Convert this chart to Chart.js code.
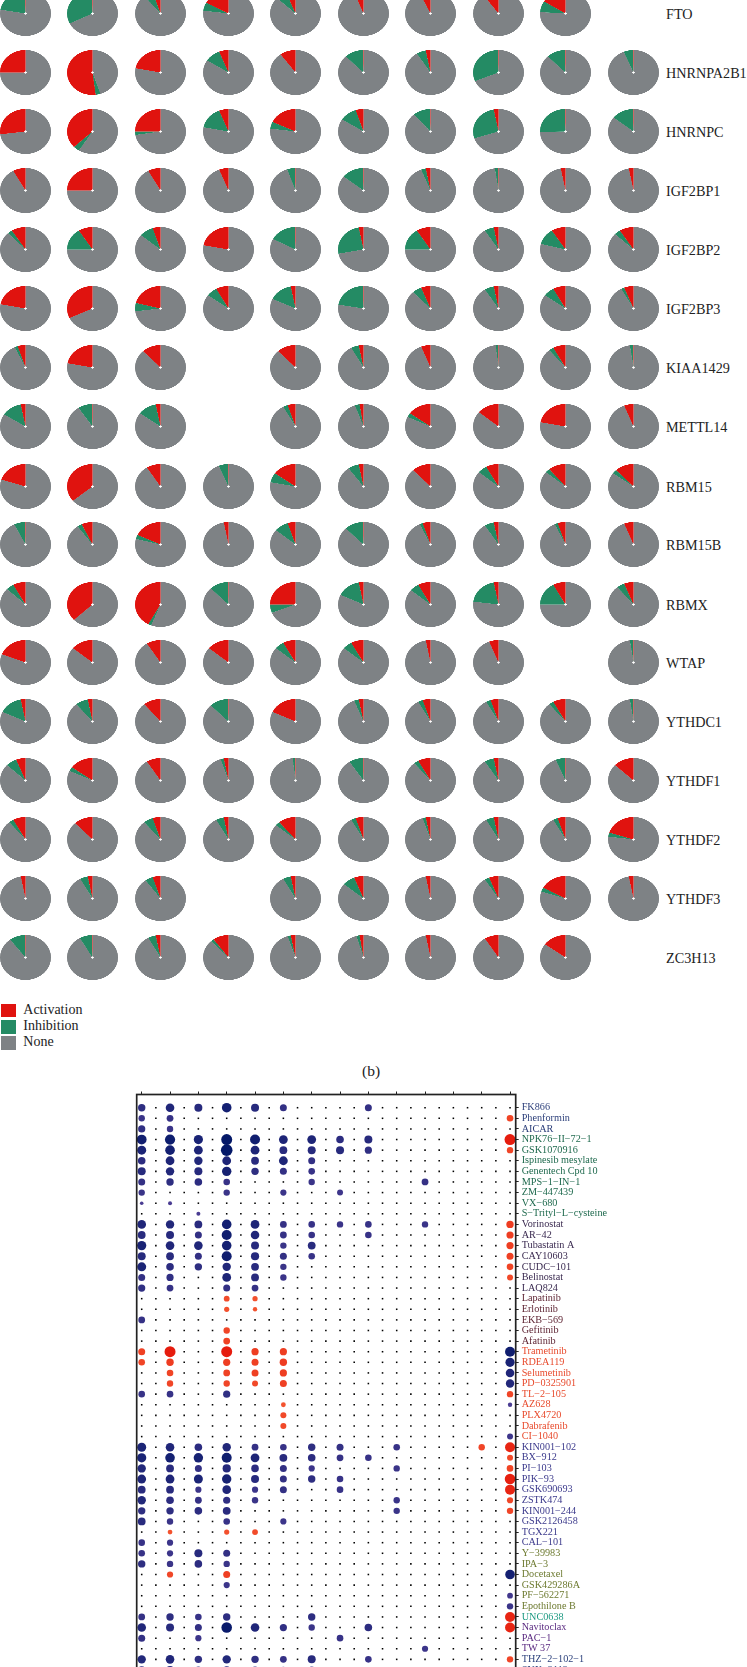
<!DOCTYPE html>
<html>
<head>
<meta charset="utf-8">
<script src="https://cdn.jsdelivr.net/npm/chart.js@4"></script>
<style>
  html, body { margin: 0; padding: 0; background: #fff; }
  body { position: relative; width: 747px; height: 1667px; overflow: hidden; font-family: "Liberation Serif", serif; color: #222; }
  .pie { position: absolute; width: 45px; height: 45px; transform: scaleX(1.133); }
  .txt { position: absolute; white-space: nowrap; line-height: 16px; font-size: 14px; }
  .swatch { position: absolute; left: 1px; width: 15px; height: 13.5px; }
  #dots { position: absolute; left: 130px; top: 1085px; }
</style>
</head>
<body>
<canvas id="dots" width="617" height="620"></canvas>
<script>
const genes = ["FTO", "HNRNPA2B1", "HNRNPC", "IGF2BP1", "IGF2BP2", "IGF2BP3", "KIAA1429", "METTL14",
  "RBM15", "RBM15B", "RBMX", "WTAP", "YTHDC1", "YTHDF1", "YTHDF2", "YTHDF3", "ZC3H13"];

// percent of samples per gene and cancer type, null = no pie
const activation = [
  [0.3, 0.3, 5, 17, 6, 6, 7, 10, 16, null],
  [25, 52, 22, 6, 10, 0.3, 3, 0.3, 0.3, 0.3],
  [27, 37, 25, 6, 18, 5, 0.3, 3, 0.3, 0.3],
  [8, 25, 8, 6, 0.3, 0.3, 3, 0.3, 3, 3],
  [9, 9, 5, 22, 0.3, 3, 9, 3, 9, 9],
  [22, 32, 21, 8, 3, 0.3, 6, 3, 8, 6],
  [5, 22, 12, null, 12, 3, 6, 0.3, 8, 0.3],
  [3, 0.3, 3, null, 5, 2.5, 15, 14, 22, 6],
  [20, 36, 9, 0.3, 15, 3, 12, 8, 11, 12],
  [0.3, 7, 18, 3, 5, 0.3, 5, 3, 5, 6],
  [8, 37, 42, 0.3, 25, 3, 8, 3, 8, 6],
  [19, 14, 9, 14, 8, 8, 3, 6, null, 0.3],
  [3, 3, 11, 0.3, 18, 3, 5, 5, 8, 0.3],
  [6, 15, 9, 3, 0.3, 0.3, 8, 3, 0.3, 13],
  [8, 12, 5, 3, 11, 5, 3, 3, 5, 20],
  [3, 3, 5, null, 3, 6, 3, 6, 17, 3],
  [0.3, 0.3, 3, 10, 3, 2.5, 3, 9, 15, null]
];
const inhibition = [
  [22, 32, 6, 6, 7, 0, 0, 0, 8, null],
  [0, 3, 0, 10, 0, 12, 6, 31, 12, 6],
  [0, 4, 2.5, 16, 5, 11, 11, 27, 25, 14],
  [0, 0, 0, 0, 5, 14, 3, 2, 0, 0],
  [3, 16, 9, 0, 17, 25, 16, 6, 12, 4],
  [0, 0, 6, 7, 15, 22, 6, 6, 7, 2],
  [2, 0, 0, null, 0, 5, 0, 1.5, 3, 2],
  [13, 9, 12, null, 3, 3, 3, 0, 0, 0],
  [0, 0, 0, 6, 7, 7, 0, 6, 3, 3],
  [7, 3, 3, 0, 9, 12, 2, 6, 2, 0],
  [5, 0, 2, 12, 6, 15, 6, 20, 17, 5],
  [0, 0, 0, 0, 6, 6, 0, 0, null, 2],
  [15, 8, 0, 12, 0, 3, 3, 3, 3, 2],
  [7, 3, 0, 2, 1.5, 9, 3, 6, 6, 0],
  [3, 0, 6, 5, 3, 3, 2, 5, 3, 3],
  [0, 5, 5, null, 5, 8, 0, 3, 3, 0],
  [10, 8, 5, 2, 2, 2, 0, 0, 0, null]
];

const drugs = ["FK866", "Phenformin", "AICAR", "NPK76−II−72−1", "GSK1070916", "Ispinesib mesylate", "Genentech Cpd 10",
  "MPS−1−IN−1", "ZM−447439", "VX−680", "S−Trityl−L−cysteine", "Vorinostat", "AR−42", "Tubastatin A", "CAY10603",
  "CUDC−101", "Belinostat", "LAQ824", "Lapatinib", "Erlotinib", "EKB−569", "Gefitinib", "Afatinib", "Trametinib",
  "RDEA119", "Selumetinib", "PD−0325901", "TL−2−105", "AZ628", "PLX4720", "Dabrafenib", "CI−1040", "KIN001−102",
  "BX−912", "PI−103", "PIK−93", "GSK690693", "ZSTK474", "KIN001−244", "GSK2126458", "TGX221", "CAL−101", "Y−39983",
  "IPA−3", "Docetaxel", "GSK429286A", "PF−562271", "Epothilone B", "UNC0638", "Navitoclax", "PAC−1", "TW 37",
  "THZ−2−102−1", "SNX−2112"];
const groupSizes = [3, 8, 7, 5, 9, 10, 6, 1, 3, 2];
const groupColors = ["#2c3f7a", "#1f6a4e", "#3a2a50", "#5a1f2e", "#e84a2c", "#3c3a8c", "#6d7a30", "#1d9a82", "#5a2a80", "#2a3f7a"];

// one row per drug, 14 columns; size of the dot, red when positive, blue when negative
const correlation = [
  [-3.7, -4.3, -4, -4.8, -4, -3.5, 0, 0, -3.5, 0, 0, 0, 0, 0],
  [-3.2, -3.4, 0, 0, 0, 0, 0, 0, 0, 0, 0, 0, 0, 3.3],
  [-3.6, -3.2, 0, 0, 0, 0, 0, 0, 0, 0, 0, 0, 0, 0],
  [-4.9, -5.1, -4.6, -5.5, -5, -4.4, -4.4, -3.8, -4, 0, 0, 0, 0, 5.5],
  [-4.5, -4.8, -4.4, -5.8, -4.4, -3.9, -4, -4, -3.6, 0, 0, 0, 0, 3.2],
  [-3.8, -4.4, -4.2, -4.4, -3.9, -4.4, -3.5, 0, 0, 0, 0, 0, 0, 0],
  [-4, -4.2, -4, -4.7, -3.7, -3.5, -3.3, 0, 0, 0, 0, 0, 0, 0],
  [-3.5, -3.7, -3.8, -3.3, 0, 0, -3.2, 0, 0, 0, -3.4, 0, 0, 0],
  [-3.2, 0, 0, -3.2, 0, -3.1, 0, -3, 0, 0, 0, 0, 0, 0],
  [-1.8, -2, 0, 0, 0, 0, 0, 0, 0, 0, 0, 0, 0, 0],
  [0, 0, -2, 0, 0, 0, 0, 0, 0, 0, 0, 0, 0, 0],
  [-4.3, -4.2, -3.9, -4.8, -4.4, -3.4, -3.3, -3.2, -3.3, 0, -3.2, 0, 0, 3.7],
  [-3.9, -4, -3.5, -5, -4.3, -3.4, -3.3, 0, -3.3, 0, 0, 0, 0, 3.6],
  [-4.6, -4.3, -4.3, -4.8, -4, -3.2, -3.9, 0, 0, 0, 0, 0, 0, 3.6],
  [-4, -3.9, -3.5, -5, -4.1, -3.5, -3.3, 0, 0, 0, 0, 0, 0, 3.5],
  [-4.5, -3.8, -3.7, -4.2, -3.9, -3.2, 0, 0, 0, 0, 0, 0, 0, 3.3],
  [-3.5, -3.6, 0, -4.4, -3.9, -3.2, 0, 0, 0, 0, 0, 0, 0, 3],
  [-3.6, -3.4, 0, -3.5, -3.4, 0, 0, 0, 0, 0, 0, 0, 0, 0],
  [0, 0, 0, 2.9, 2.6, 0, 0, 0, 0, 0, 0, 0, 0, 0],
  [0, 0, 0, 2.6, 2.2, 0, 0, 0, 0, 0, 0, 0, 0, 0],
  [-3.4, 0, 0, 0, 0, 0, 0, 0, 0, 0, 0, 0, 0, 0],
  [0, 0, 0, 3.2, 0, 0, 0, 0, 0, 0, 0, 0, 0, 0],
  [0, 0, 0, 3.4, 0, 0, 0, 0, 0, 0, 0, 0, 0, 0],
  [3.5, 5.5, 0, 5.5, 3.6, 3.6, 0, 0, 0, 0, 0, 0, 0, -5],
  [3.3, 3.7, 0, 3.6, 3.5, 3.7, 0, 0, 0, 0, 0, 0, 0, -4.6],
  [0, 3.3, 0, 3.4, 3.5, 3.6, 0, 0, 0, 0, 0, 0, 0, -4.3],
  [0, 3.2, 0, 3.2, 3, 3.5, 0, 0, 0, 0, 0, 0, 0, -4.2],
  [-3.3, -3.3, 0, -3.6, 0, 0, 0, 0, 0, 0, 0, 0, 0, 3.2],
  [0, 0, 0, 0, 0, 2.4, 0, 0, 0, 0, 0, 0, 0, -2.2],
  [0, 0, 0, 0, 0, 3, 0, 0, 0, 0, 0, 0, 0, 0],
  [0, 0, 0, 0, 0, 3, 0, 0, 0, 0, 0, 0, 0, 0],
  [0, 0, 0, 0, 0, 0, 0, 0, 0, 0, 0, 0, 0, -3],
  [-4.5, -4.3, -3.8, -4.2, -3.4, -3.3, -3.7, -3.5, 0, -3.3, 0, 0, 3.2, 5],
  [-4.6, -4.8, -4.7, -5, -4.4, -3.9, -3.8, -3.4, -3.3, 0, 0, 0, 0, 3],
  [-4.2, -3.9, -3.5, -4.1, -3.8, -3.5, -3.1, 0, 0, -3.2, 0, 0, 0, 3.3],
  [-4.4, -4.4, -4.5, -4.7, -4, -3.5, -3.7, -3.3, 0, 0, 0, 0, 0, 5.3],
  [-3.9, -3.9, -3.1, -4.3, -3.1, -3.5, 0, -3.3, 0, 0, 0, 0, 0, 5],
  [-4.2, -3.8, -3.4, -3.6, -3.2, 0, 0, 0, 0, -3.2, 0, 0, 0, 3.1],
  [-3.7, -3.7, -3.8, -3.9, 0, 0, 0, 0, 0, -3.2, 0, 0, 0, 3.2],
  [-3.9, -3.2, 0, -3.3, 0, -3.1, 0, 0, 0, 0, 0, 0, 0, 0],
  [0, 2.4, 0, 2.6, 2.9, 0, 0, 0, 0, 0, 0, 0, 0, 0],
  [-3.3, -3.1, 0, 0, 0, 0, 0, 0, 0, 0, 0, 0, 0, 0],
  [-3.3, -3.1, -4, -3.5, 0, 0, 0, 0, 0, 0, 0, 0, 0, 0],
  [-3.7, -3.2, -3.8, -3.2, 0, 0, 0, 0, 0, 0, 0, 0, 0, 0],
  [0, 3.1, 0, 3.5, 0, 0, 0, 0, 0, 0, 0, 0, 0, -4.8],
  [0, 0, 0, -3.1, 0, 0, 0, 0, 0, 0, 0, 0, 0, 0],
  [0, 0, 0, 0, 0, 0, 0, 0, 0, 0, 0, 0, 0, -2.9],
  [0, 0, 0, 0, 0, 0, 0, 0, 0, 0, 0, 0, 0, -3.2],
  [-3.4, -3.7, -3.3, -3.7, 0, 0, -3.7, 0, 0, 0, 0, 0, 0, 5],
  [-4.3, -4, -3.5, -5.3, -4.3, -3.6, -3.2, 0, -3.8, 0, 0, 0, 0, 5],
  [-3.5, 0, -3.1, 0, 0, 0, 0, -3.3, 0, 0, 0, 0, 0, 0],
  [0, 0, 0, 0, 0, 0, 0, 0, 0, 0, -3.1, 0, 0, 0],
  [-4.2, -4.3, -3.7, -4.2, -3.7, -3.4, -4, 0, -3.3, 0, 0, 0, 0, 3.2],
  [-3.8, -4, -3.5, -3.8, -3.6, -3.2, -3.5, 0, 0, 0, 0, 0, 0, 0]
];

const RED = "#e0130f", GREEN = "#248b64", GREY = "#7e8285";

// pie panel: gene rows, ten columns
const pieX = [25.2, 92.8, 160.4, 228, 295.4, 363, 430.5, 498, 565.4, 633];
const pieY = [13.7, 72.7, 131.7, 190.7, 249.7, 308.7, 367.7, 426.7, 486, 544.6, 604, 662.9, 721.8, 780.7, 839.6, 898.6, 957.5];

genes.forEach((gene, r) => {
  const label = document.createElement("div");
  label.className = "txt";
  label.textContent = gene;
  label.style.left = "666px";
  label.style.top = (pieY[r] - 7.5) + "px";
  label.style.fontSize = "14.2px";
  document.body.appendChild(label);

  activation[r].forEach((a, c) => {
    if (a === null) return;
    const i = inhibition[r][c];
    const box = document.createElement("div");
    box.className = "pie";
    box.style.left = (pieX[c] - 22.5) + "px";
    box.style.top = (pieY[r] - 22.5) + "px";
    const cv = document.createElement("canvas");
    cv.width = 45;
    cv.height = 45;
    box.appendChild(cv);
    document.body.appendChild(box);
    new Chart(cv, {
      type: "doughnut",
      data: {
        labels: ["None", "Inhibition", "Activation"],
        datasets: [{ data: [100 - a - i, i, a], backgroundColor: [GREY, GREEN, RED], borderWidth: 0 }]
      },
      options: {
        responsive: false,
        animation: false,
        events: [],
        cutout: 1.1,
        devicePixelRatio: 3,
        plugins: { legend: { display: false }, tooltip: { enabled: false } }
      }
    });
  });
});

// legend of the pies
[["Activation", RED, 1003.5, 1009.8], ["Inhibition", GREEN, 1020, 1026], ["None", GREY, 1036, 1041.7]].forEach(l => {
  const sw = document.createElement("div");
  sw.className = "swatch";
  sw.style.top = l[2] + "px";
  sw.style.background = l[1];
  document.body.appendChild(sw);
  const t = document.createElement("div");
  t.className = "txt";
  t.textContent = l[0];
  t.style.left = "23.3px";
  t.style.top = (l[3] - 8) + "px";
  document.body.appendChild(t);
});
const panel = document.createElement("div");
panel.className = "txt";
panel.textContent = "(b)";
panel.style.cssText = "left:362px;top:1062px;font-size:15.5px;line-height:18px";
document.body.appendChild(panel);

// dot panel
const labelColors = [];
groupSizes.forEach((n, g) => { for (let k = 0; k < n; k++) labelColors.push(groupColors[g]); });

function dotColor(v) {
  const t = Math.min(1, Math.max(0, (Math.abs(v) - 2.5) / 3));
  const from = v > 0 ? [243, 82, 46] : [74, 60, 146];
  const to = v > 0 ? [230, 28, 14] : [4, 24, 104];
  return "rgb(" + from.map((f, k) => Math.round(f + (to[k] - f) * t)).join(",") + ")";
}

const bigDots = [];
correlation.forEach((row, y) => row.forEach((v, c) => {
  if (v !== 0) bigDots.push({ x: c * 2, y: y, r: Math.abs(v), v: v });
}));
const smallDots = [];
drugs.forEach((d, y) => { for (let x = 0; x < 27; x++) smallDots.push({ x: x, y: y, r: 1.1 }); });

const frame = {
  id: "frame",
  afterDatasetsDraw(chart) {
    const a = chart.chartArea, g = chart.ctx;
    g.save();
    g.strokeStyle = "#222";
    g.lineWidth = 1.7;
    g.strokeRect(a.left, a.top, a.right - a.left, a.bottom - a.top);
    g.restore();
  }
};

new Chart(document.getElementById("dots"), {
  type: "bubble",
  data: {
    datasets: [
      { data: bigDots, order: 1, clip: false, borderWidth: 0, backgroundColor: c => c.raw ? dotColor(c.raw.v) : "#000" },
      { data: smallDots, order: 2, clip: false, borderWidth: 0, backgroundColor: "#000", pointStyle: "rect" }
    ]
  },
  plugins: [frame],
  options: {
    responsive: false,
    animation: false,
    events: [],
    layout: { padding: { left: 6.7, top: 0, right: 0, bottom: 13.8 } },
    plugins: { legend: { display: false }, tooltip: { enabled: false } },
    scales: {
      x: {
        type: "linear",
        position: "top",
        min: -0.353,
        max: 26.4,
        afterBuildTicks: s => { s.ticks = correlation[0].map((v, c) => ({ value: c * 2 })); },
        afterFit: s => { s.height = 9.5; },
        ticks: { display: false },
        border: { display: false },
        grid: { drawOnChartArea: false, tickLength: 3, tickColor: "#222", tickWidth: 1 }
      },
      y: {
        type: "linear",
        position: "right",
        reverse: true,
        min: -1.245,
        max: 55,
        afterBuildTicks: s => { s.ticks = drugs.map((d, k) => ({ value: k })); },
        afterFit: s => { s.width = 231.3; },
        border: { display: false },
        grid: { drawOnChartArea: false, tickLength: 3, tickColor: "#222", tickWidth: 1 },
        ticks: {
          autoSkip: false,
          padding: 3,
          labelOffset: 0,
          font: { family: "Liberation Serif", size: 10.2 },
          color: c => labelColors[c.tick.value] || "#222",
          callback: v => drugs[v]
        }
      }
    }
  }
});
</script>
</body>
</html>
